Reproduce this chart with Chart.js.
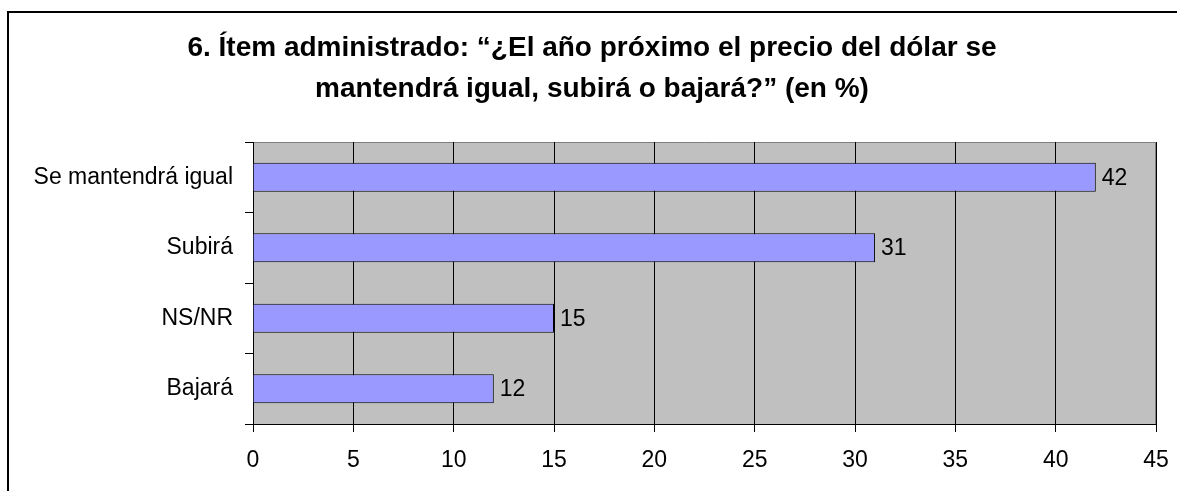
<!DOCTYPE html>
<html>
<head>
<meta charset="utf-8">
<script src="https://cdn.jsdelivr.net/npm/chart.js@4"></script>
<style>
  html, body { margin: 0; padding: 0; background: #fff; }
  #wrap { width: 1177px; height: 491px; }
</style>
</head>
<body>
<div id="wrap"><canvas id="chart" width="1177" height="491"></canvas></div>
<script>
// Chart data
const categories = ["Se mantendrá igual", "Subirá", "NS/NR", "Bajará"];
const percentValues = [42, 31, 15, 12];
const xTicks = [0, 5, 10, 15, 20, 25, 30, 35, 40, 45];
const titleLines = [
  "6. Ítem administrado: “¿El año próximo el precio del dólar se",
  "mantendrá igual, subirá o bajará?” (en %)",
];

const FONT = "'Liberation Sans', Arial, sans-serif";

// frame + grey plot background
const backgroundPlugin = {
  id: "background",
  beforeDraw: (chart) => {
    const { ctx, chartArea } = chart;
    ctx.save();
    ctx.fillStyle = "#fff";
    ctx.fillRect(0, 0, chart.width, chart.height);
    ctx.strokeStyle = "#000";
    ctx.lineWidth = 2;
    ctx.beginPath();
    ctx.moveTo(8, chart.height + 5);
    ctx.lineTo(8, 12);
    ctx.lineTo(chart.width + 5, 12);
    ctx.stroke();
    ctx.fillStyle = "#c0c0c0";
    ctx.fillRect(chartArea.left, chartArea.top, chartArea.right - chartArea.left, chartArea.bottom - chartArea.top);
    ctx.strokeStyle = "#808080";
    ctx.lineWidth = 1;
    ctx.beginPath();
    ctx.moveTo(chartArea.left, chartArea.top + 0.5);
    ctx.lineTo(chartArea.right - 0.5, chartArea.top + 0.5);
    ctx.lineTo(chartArea.right - 0.5, chartArea.bottom);
    ctx.stroke();
    ctx.restore();
  },
};

// value labels at the bar ends
const valueLabelPlugin = {
  id: "valueLabels",
  afterDatasetsDraw: (chart) => {
    const { ctx } = chart;
    const meta = chart.getDatasetMeta(0);
    ctx.save();
    ctx.fillStyle = "#000";
    ctx.font = "23px " + FONT;
    ctx.textAlign = "left";
    ctx.textBaseline = "middle";
    meta.data.forEach((bar, i) => {
      ctx.fillText(String(percentValues[i]), bar.x + 6, bar.y + 1);
    });
    ctx.restore();
  },
};

new Chart(document.getElementById("chart"), {
  type: "bar",
  data: {
    labels: categories,
    datasets: [
      {
        data: percentValues,
        backgroundColor: "#9999ff",
        borderColor: "#000",
        borderWidth: 1,
        categoryPercentage: 0.82,
        barPercentage: 0.5,
      },
    ],
  },
  options: {
    indexAxis: "y",
    responsive: false,
    animation: false,
    layout: { padding: { left: 28, right: 21, top: 0, bottom: 0 } },
    plugins: {
      legend: { display: false },
      tooltip: { enabled: false },
      title: {
        display: true,
        text: titleLines,
        color: "#000",
        font: { family: FONT, size: 28, weight: "bold", lineHeight: "41px" },
        padding: { top: 28, bottom: 32 },
      },
    },
    scales: {
      x: {
        type: "linear",
        min: 0,
        max: 45,
        afterBuildTicks: (scale) => {
          scale.ticks = xTicks.map((v) => ({ value: v }));
        },
        afterFit: (scale) => {
          scale.height = 67;
          scale.paddingLeft = 0;
          scale.paddingRight = 0;
        },
        ticks: {
          color: "#000",
          font: { family: FONT, size: 23 },
          padding: 15,
          maxRotation: 0,
        },
        grid: {
          color: "#000",
          lineWidth: 1,
          tickLength: 8,
          tickColor: "#000",
        },
        border: { color: "#000", width: 1 },
      },
      y: {
        afterFit: (scale) => {
          scale.width = 225;
        },
        ticks: {
          color: "#000",
          font: { family: FONT, size: 23 },
          padding: 12,
        },
        grid: {
          offset: true,
          drawOnChartArea: false,
          tickLength: 8,
          tickColor: "#000",
        },
        border: { color: "#000", width: 1 },
      },
    },
  },
  plugins: [backgroundPlugin, valueLabelPlugin],
});
</script>
</body>
</html>
